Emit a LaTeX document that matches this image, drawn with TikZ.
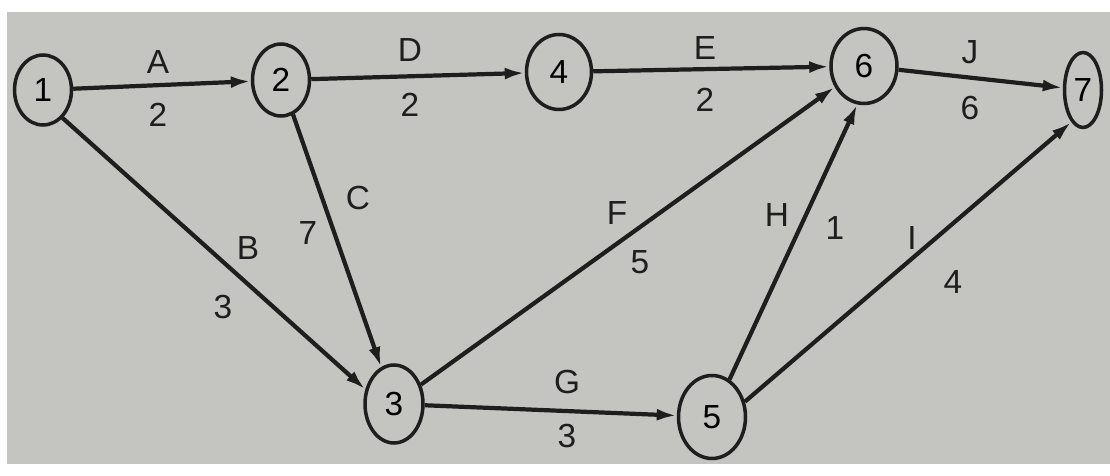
\documentclass[tikz,border=0pt]{standalone}
\usepackage{fontspec}
\setmainfont{Liberation Sans}
\usetikzlibrary{arrows.meta,shapes.geometric}
\definecolor{paper}{HTML}{C4C4C0}
\definecolor{ink}{HTML}{1E1E1E}

\begin{document}
\begin{tikzpicture}[x=0.02cm,y=-0.02cm,>={Latex[length=0.4cm,width=0.24cm]},
  event/.style={ellipse,draw=ink,line width=2pt,inner sep=0pt,minimum width=1.2cm,minimum height=1.5cm,font=\fontsize{19}{21}\selectfont},
  act/.style={->,line width=2.4pt,ink},
  lbl/.style={font=\fontsize{19}{21}\selectfont,text=ink}]
\useasboundingbox (0,0) rectangle (1110,476);
\fill[white] (0,0) rectangle (1110,476);
\fill[paper] (7,12) rectangle (1110,464);
% events
\node[event,minimum width=1.14cm,minimum height=1.4cm] (n1) at (43,90) {1};
\node[event,minimum width=1.14cm,minimum height=1.44cm] (n2) at (281,80) {2};
\node[event,minimum width=1.3cm] (n4) at (559,72) {4};
\node[event,minimum width=1.32cm] (n6) at (864,66) {6};
\node[event,minimum width=0.74cm] (n7) at (1083,90) {7};
\node[event,minimum width=1.16cm,minimum height=1.56cm] (n3) at (394,404) {3};
\node[event,minimum width=1.34cm,minimum height=1.66cm] (n5) at (712,417) {5};
% activities
\draw[act] (n1) -- (n2);
\draw[act] (n1.-55) -- (n3.153);
\draw[act] (n2) -- (n4);
\draw[act] (n2) -- (n3);
\draw[act] (n4) -- (n6);
\draw[act] (n3) -- (n6);
\draw[act] (n3) -- (n5);
\draw[act] (n5.65) -- (n6.-100);
\draw[act] (n5.25) -- (n7.-110);
\draw[act] (n6) -- (n7);
% labels
\node[lbl] (la) at (158,62) {A};  \node[lbl] (da) at (158,115) {2};
\node[lbl] (ld) at (410,50) {D};  \node[lbl] (dd) at (410,105) {2};
\node[lbl] (le) at (705,48) {E};  \node[lbl] (de) at (705,100) {2};
\node[lbl] (lj) at (970,52) {J};  \node[lbl] (dj) at (970,108) {6};
\node[lbl] (lc) at (358,198) {C}; \node[lbl] (dc) at (308,233) {7};
\node[lbl] (lb) at (248,248) {B}; \node[lbl] (db) at (223,307) {3};
\node[lbl] (lf) at (617,213) {F}; \node[lbl] (df) at (640,262) {5};
\node[lbl] (lh) at (777,215) {H}; \node[lbl] (dh) at (835,228) {1};
\node[lbl] (li) at (912,238) {I}; \node[lbl] (di) at (953,282) {4};
\node[lbl] (lg) at (567,382) {G}; \node[lbl] (dg) at (567,436) {3};
\end{tikzpicture}
\end{document}
